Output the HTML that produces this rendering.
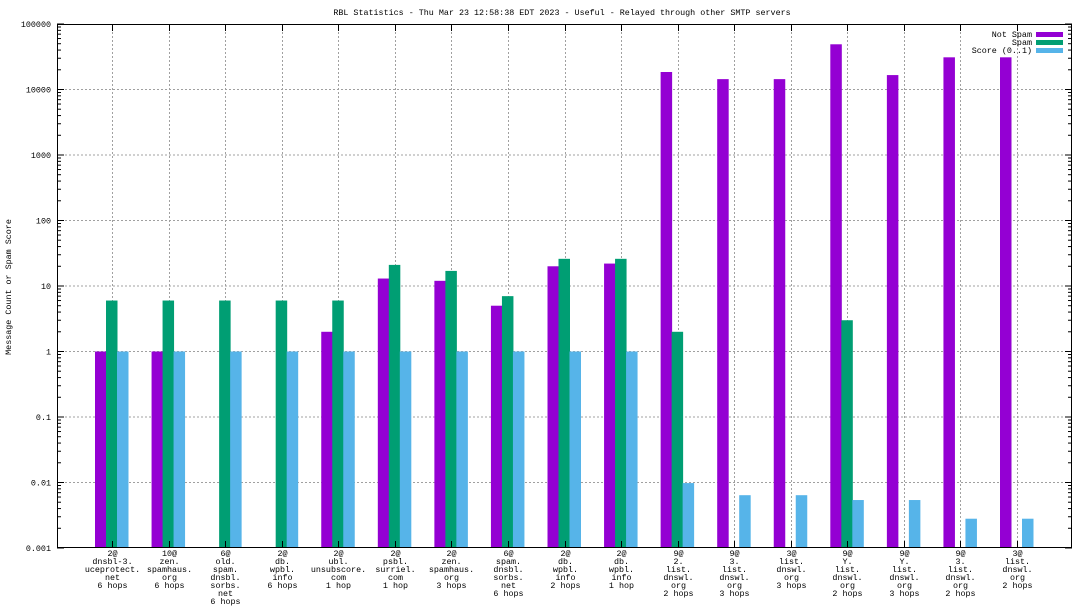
<!DOCTYPE html>
<html><head><meta charset="utf-8"><style>
html,body{margin:0;padding:0;background:#fff}
svg{display:block}
text{font-family:"Liberation Mono",monospace;font-size:8.4px;fill:#000}
</style></head><body>
<svg id="chart" width="1088" height="612" xmlns="http://www.w3.org/2000/svg">
<rect x="0" y="0" width="1088" height="612" fill="#fff"/>
<g id="grid"></g>
<g id="bars"></g>
<g id="axes"></g>
<text x="562" y="15" text-anchor="middle">RBL Statistics - Thu Mar 23 12:58:38 EDT 2023 - Useful - Relayed through other SMTP servers</text>
<text transform="translate(11,287) rotate(-90)" text-anchor="middle">Message Count or Spam Score</text>
<g>
<text x="1032" y="37" text-anchor="end">Not Spam</text>
<rect x="1036" y="32" width="27" height="5" fill="#9400d3"/>
<text x="1032" y="45" text-anchor="end">Spam</text>
<rect x="1036" y="40" width="27" height="5" fill="#009e73"/>
<text x="1032" y="53" text-anchor="end">Score (0..1)</text>
<rect x="1036" y="48" width="27" height="5" fill="#56b4e9"/>
</g>
</svg>
<script>
const categories = [
 ["2@","dnsbl-3.","uceprotect.","net","6 hops"],
 ["10@","zen.","spamhaus.","org","6 hops"],
 ["6@","old.","spam.","dnsbl.","sorbs.","net","6 hops"],
 ["2@","db.","wpbl.","info","6 hops"],
 ["2@","ubl.","unsubscore.","com","1 hop"],
 ["2@","psbl.","surriel.","com","1 hop"],
 ["2@","zen.","spamhaus.","org","3 hops"],
 ["6@","spam.","dnsbl.","sorbs.","net","6 hops"],
 ["2@","db.","wpbl.","info","2 hops"],
 ["2@","db.","wpbl.","info","1 hop"],
 ["9@","2.","list.","dnswl.","org","2 hops"],
 ["9@","3.","list.","dnswl.","org","3 hops"],
 ["3@","list.","dnswl.","org","3 hops"],
 ["9@","Y.","list.","dnswl.","org","2 hops"],
 ["9@","Y.","list.","dnswl.","org","3 hops"],
 ["9@","3.","list.","dnswl.","org","2 hops"],
 ["3@","list.","dnswl.","org","2 hops"]
];
const notSpam = [1,1,0,0,2,13,12,5,20,22,18500,14400,14400,49000,16600,31000,31000];
const spam = [6,6,6,6,6,21,17,7,26,26,2,0,0,3,0,0,0];
const score = [1,1,1,1,1,1,1,1,1,1,0.0098,0.0064,0.0064,0.0054,0.0054,0.0028,0.0028];
const yTicks = [0.001,0.01,0.1,1,10,100,1000,10000,100000];
const yTickLabels = ["0.001","0.01","0.1","1","10","100","1000","10000","100000"];

const NS="http://www.w3.org/2000/svg";
const L=57,R=1072,T=24,B=548;
const yMin=-3,yMax=5;
function y(v){return B-(Math.log10(v)-yMin)/(yMax-yMin)*(B-T);}
const x0=112, step=(1017-112)/16;
function x(i){return x0+i*step;}
function mk(tag,attrs,parent){const e=document.createElementNS(NS,tag);for(const k in attrs)e.setAttribute(k,attrs[k]);parent.appendChild(e);return e;}
const grid=document.getElementById('grid'),bars=document.getElementById('bars'),axes=document.getElementById('axes');
yTicks.forEach((v,k)=>{
 const yy=y(v);
 if(k>0&&k<yTicks.length-1){const g=mk('line',{x1:L,x2:R,y1:yy,y2:yy,stroke:'#a0a0a0','stroke-dasharray':'2,2','stroke-width':1},grid);
 
 }
 mk('line',{x1:L,x2:L+7,y1:yy,y2:yy,stroke:'#000'},axes);
 mk('line',{x1:R-7,x2:R,y1:yy,y2:yy,stroke:'#000'},axes);
 const t=mk('text',{x:L-6,y:yy+3,'text-anchor':'end'},axes);t.textContent=yTickLabels[k];
 
 
 if(k<yTicks.length-1){for(let m=2;m<=9;m++){const my=y(v*m);
  mk('line',{x1:L,x2:L+4,y1:my,y2:my,stroke:'#000'},axes);
  mk('line',{x1:R-4,x2:R,y1:my,y2:my,stroke:'#000'},axes);}}
});
categories.forEach((c,i)=>{
 const xx=Math.round(x(i))+0.5;
 const g=mk('line',{x1:xx,x2:xx,y1:T,y2:B,stroke:'#a0a0a0','stroke-dasharray':'2,2'},grid);
 
 
 mk('line',{x1:xx,x2:xx,y1:B,y2:B-7,stroke:'#000'},axes);
 mk('line',{x1:xx,x2:xx,y1:T,y2:T+7,stroke:'#000'},axes);
 const t=mk('text',{'text-anchor':'middle'},axes);
 
 
 c.forEach((line,j)=>{const ts=mk('tspan',{x:xx,y:556+j*8},t);ts.textContent=line;});
});
const series=[[notSpam,'#9400d3',-17,'not-spam'],[spam,'#009e73',-6,'spam'],[score,'#56b4e9',5,'score']];
series.forEach(([vals,col,off,nm])=>{
 vals.forEach((v,i)=>{
  if(!(v>0))return;
  const top=y(v);
  const r=mk('rect',{x:x(i)+off,y:top,width:11.5,height:B-top,fill:col},bars);
  
  
 });
});
mk('rect',{x:L+0.5,y:T+0.5,width:R-L-1,height:B-T-1,fill:'none',stroke:'#000','stroke-width':1},axes);
</script>
</body></html>
